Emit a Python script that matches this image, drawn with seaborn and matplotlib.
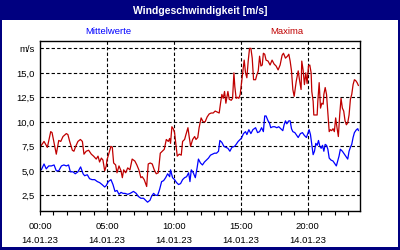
import matplotlib
matplotlib.use("Agg")
import matplotlib.pyplot as plt
import seaborn as sns
import pandas as pd
from matplotlib.patches import Rectangle

# ---------------- data ----------------
title = "Windgeschwindigkeit [m/s]"
series_mean = "Mittelwerte"
series_max = "Maxima"
date_label = "14.01.23"
hour_ticks = [0, 5, 10, 15, 20]
hour_labels = ["00:00", "05:00", "10:00", "15:00", "20:00"]
y_ticks = [2.5, 5.0, 7.5, 10.0, 12.5, 15.0, 17.5]
y_labels = ["2,5", "5,0", "7,5", "10,0", "12,5", "15,0", "m/s"]

max_minutes = [3, 18, 33, 48, 54, 73, 84, 93, 103, 118, 125, 133, 145, 152, 160, 170, 181, 190,
               197, 207, 218, 230, 240, 252, 260, 267, 275, 282, 290, 297,
               300, 309, 318, 324, 330, 339, 345, 354, 363, 369, 375, 384, 393, 403, 413, 425,
               434, 443, 452, 458, 467, 478, 485, 494, 503, 512, 521, 530, 539, 548, 557, 566,
               575, 581,
               585, 591, 597, 603, 609, 615, 624, 633, 639, 648, 654, 663, 669, 675, 684, 693,
               699, 707, 713, 722, 731, 740, 749, 758, 767, 776, 785, 794, 803, 809, 815, 821,
               827, 833, 842, 848, 857, 863, 869,
               873, 879, 885, 891, 897, 903, 909, 915, 921, 927, 933, 939, 945, 951, 957, 966,
               972, 978, 984, 990, 996, 1001, 1007, 1013, 1022, 1031, 1040, 1049, 1058, 1067,
               1076, 1085, 1091, 1100, 1109, 1115, 1121, 1127, 1133, 1139, 1148, 1157,
               1164, 1170, 1173, 1179, 1185, 1191, 1197, 1203, 1209, 1215, 1218, 1224, 1227,
               1236, 1242, 1245, 1251, 1257, 1263, 1269, 1272, 1278, 1284, 1290, 1296, 1301,
               1307, 1313, 1319, 1325, 1331, 1337, 1343, 1349, 1355, 1361, 1367, 1373, 1379,
               1385, 1391, 1397, 1403, 1409, 1415, 1421, 1427]
max_values = [7.5, 8.0, 7.4, 9.0, 8.9, 6.7, 8.1, 8.0, 8.5, 8.8, 8.7, 8.0, 7.1, 7.0, 7.5, 8.0, 8.2, 8.0,
              6.7, 7.0, 7.1, 6.7, 6.5, 6.2, 6.5, 5.9, 6.3, 6.1, 5.0, 5.5,
              6.1, 6.8, 7.5, 7.4, 5.8, 5.6, 4.8, 5.5, 5.0, 4.3, 5.1, 4.8, 5.3, 5.1, 6.2, 6.0,
              5.6, 5.1, 4.3, 4.4, 4.1, 3.4, 5.7, 5.8, 5.7, 5.1, 4.7, 4.8, 6.8, 7.0, 7.2, 8.2,
              8.0, 8.3,
              7.8, 9.5, 9.3, 8.9, 7.7, 6.5, 6.7, 6.6, 8.0, 8.2, 8.7, 9.4, 8.4, 7.5, 8.2, 8.5,
              8.2, 8.4, 9.4, 10.4, 10.0, 10.0, 10.5, 10.8, 10.9, 10.9, 11.1, 11.0, 10.9, 11.9, 12.8, 12.4,
              13.1, 11.9, 13.1, 12.3, 12.2, 12.4, 15.0,
              13.6, 12.4, 12.5, 12.4, 12.8, 14.0, 15.3, 16.3, 15.0, 14.5, 16.2, 17.5, 17.5, 16.5, 14.3, 14.3,
              14.8, 15.2, 16.7, 15.7, 15.8, 17.0, 16.9, 16.3, 16.2, 15.8, 16.3, 15.9, 15.7, 15.3,
              15.8, 16.8, 17.0, 16.5, 16.7, 16.9, 16.2, 15.2, 13.3, 12.6, 14.1, 15.2,
              14.1, 13.3, 16.2, 15.3, 13.8, 15.0, 13.9, 15.7, 15.8, 15.0, 13.1, 12.1, 10.7,
              10.7, 10.7, 12.1, 14.0, 11.4, 11.9, 11.8, 12.8, 13.5, 12.8, 10.9, 9.0, 9.2,
              9.1, 9.3, 9.0, 10.4, 9.4, 8.5, 10.7, 12.4, 11.4, 11.1, 10.1, 9.7, 9.9,
              10.7, 12.3, 12.8, 13.8, 14.3, 14.2, 14.0, 13.7]

mean_minutes = [6, 18, 28, 39, 51, 63, 73, 84, 96, 107, 118, 128, 136, 148, 158, 170, 182, 193,
                200, 212, 222, 233, 245, 257, 267, 278, 290, 297,
                306, 318, 327, 336, 345, 354, 363, 372, 381, 393, 404, 419, 431, 440, 452, 464,
                473, 482, 493, 500, 509, 518, 527, 536, 545, 554, 563, 572, 581,
                585, 594, 603, 612, 621, 630, 639, 648, 657, 666, 672, 678, 687, 696, 704, 710,
                719, 728, 737, 746, 755, 764, 773, 782, 791, 800, 806, 815, 824, 833, 842, 851,
                860, 872,
                879, 888, 897, 903, 912, 921, 927, 936, 945, 954, 960, 966, 975, 984, 993, 1001,
                1007, 1013, 1022, 1028, 1034, 1043, 1052, 1061, 1070, 1079, 1088, 1094, 1100, 1106,
                1115, 1121, 1127, 1133, 1142, 1151, 1157,
                1167, 1176, 1185, 1194, 1200, 1206, 1212, 1218, 1224, 1230, 1236, 1242, 1248,
                1254, 1260, 1266, 1272, 1278, 1284, 1290, 1296, 1304, 1313, 1322, 1328, 1334,
                1340, 1346, 1355, 1364, 1373, 1379, 1385, 1391, 1397, 1403, 1409, 1418, 1424, 1427]
mean_values = [5.1, 5.7, 5.2, 5.5, 5.5, 5.6, 5.0, 5.0, 5.5, 5.6, 5.5, 5.6, 4.9, 4.9, 4.7, 4.9, 5.4, 4.7,
               4.5, 4.6, 4.2, 4.1, 4.1, 3.9, 3.8, 3.6, 3.35, 3.5,
               3.9, 4.1, 3.6, 2.9, 3.0, 2.6, 2.8, 2.7, 2.7, 2.6, 2.7, 2.9, 2.7, 2.4, 2.2, 2.2,
               2.0, 1.8, 2.0, 2.4, 2.7, 2.5, 2.5, 3.1, 3.9, 4.0, 4.3, 4.7, 4.4,
               5.1, 4.3, 4.1, 3.8, 3.6, 3.7, 4.1, 4.3, 4.4, 4.8, 3.9, 5.1, 4.8, 4.3, 5.3, 6.2,
               5.8, 5.6, 5.9, 6.1, 6.3, 6.6, 6.7, 6.8, 6.8, 7.0, 8.1, 7.9, 7.5, 7.4, 7.3, 7.0,
               7.4, 7.5,
               7.7, 8.0, 8.2, 8.35, 8.8, 9.0, 8.7, 9.2, 8.8, 9.2, 9.3, 9.4, 8.9, 9.0, 9.4, 9.0,
               10.6, 10.6, 10.1, 9.9, 9.4, 9.5, 9.5, 9.4, 9.5, 9.3, 9.1, 9.7, 10.1, 9.8,
               10.1, 10.1, 9.3, 9.0, 8.9, 8.6, 8.4,
               8.8, 8.9, 8.6, 8.4, 8.8, 9.2, 8.7, 7.7, 6.65, 7.0, 7.8, 7.6, 8.1,
               7.5, 7.3, 7.6, 7.0, 7.7, 7.6, 7.2, 6.3, 6.1, 6.0, 5.7, 5.5, 6.0,
               6.5, 7.2, 7.0, 6.7, 6.4, 6.2, 7.0, 7.4, 7.7, 8.4, 8.9, 9.2, 9.3, 9.1]

# ---------------- figure ----------------
NAVY = "#000080"
BLUE = "#0000ff"
RED = "#c00000"

sns.set_style("white")
plt.rcParams["font.family"] = ["Liberation Sans", "DejaVu Sans"]

df = pd.concat([
    pd.DataFrame({"h": [m / 60 for m in mean_minutes], "v": mean_values, "s": series_mean}),
    pd.DataFrame({"h": [m / 60 for m in max_minutes], "v": max_values, "s": series_max}),
], ignore_index=True)

fig = plt.figure(figsize=(4, 2.5), dpi=100, facecolor=NAVY)
fig.patches.append(Rectangle((2 / 400, 3 / 250), 396 / 400, 227 / 250,
                             transform=fig.transFigure, facecolor="white",
                             edgecolor="none", zorder=-10))
fig.text(0.5, 1 - 10.5 / 250, title, color="white", fontsize=7.5, fontweight="bold",
         ha="center", va="center")
fig.text(108 / 400, 1 - 31 / 250, series_mean, color=BLUE, fontsize=6.8, ha="center", va="center")
fig.text(287 / 400, 1 - 31 / 250, series_max, color=RED, fontsize=6.8, ha="center", va="center")

ax = fig.add_axes([40 / 400, 1 - 211 / 250, 320 / 400, 170 / 250])
ax.set_zorder(5)
ax.set_facecolor("white")

sns.lineplot(data=df, x="h", y="v", hue="s", palette={series_mean: BLUE, series_max: RED},
             hue_order=[series_max, series_mean], linewidth=0.9, legend=False, ax=ax,
             estimator=None, sort=True)

ax.set_xlim(0, 23.9)
ax.set_ylim(0.9, 18.25)
ax.set_xlabel("")
ax.set_ylabel("")

ax.set_yticks(y_ticks)
ax.set_yticklabels(y_labels)
ax.set_xticks(hour_ticks)
ax.set_xticklabels([f"{h}\n{date_label}" for h in hour_labels], linespacing=1.75)
ax.set_xticks(range(0, 24), minor=True)

ax.tick_params(axis="y", length=0, pad=4, labelsize=6.8, colors="black")
ax.tick_params(axis="x", which="both", direction="out", length=3, width=0.8, pad=5,
               labelsize=6.8, colors="black", bottom=True)

for y in y_ticks:
    ax.axhline(y, color="black", lw=0.8, ls=(0, (3, 2)), zorder=1)
for x in hour_ticks[1:]:
    ax.axvline(x, color="black", lw=0.8, ls=(0, (3, 2)), zorder=1)

for sp in ax.spines.values():
    sp.set_visible(True)
    sp.set_color("black")
    sp.set_linewidth(1.0)

fig.savefig("out.png", dpi=100, facecolor=NAVY)
